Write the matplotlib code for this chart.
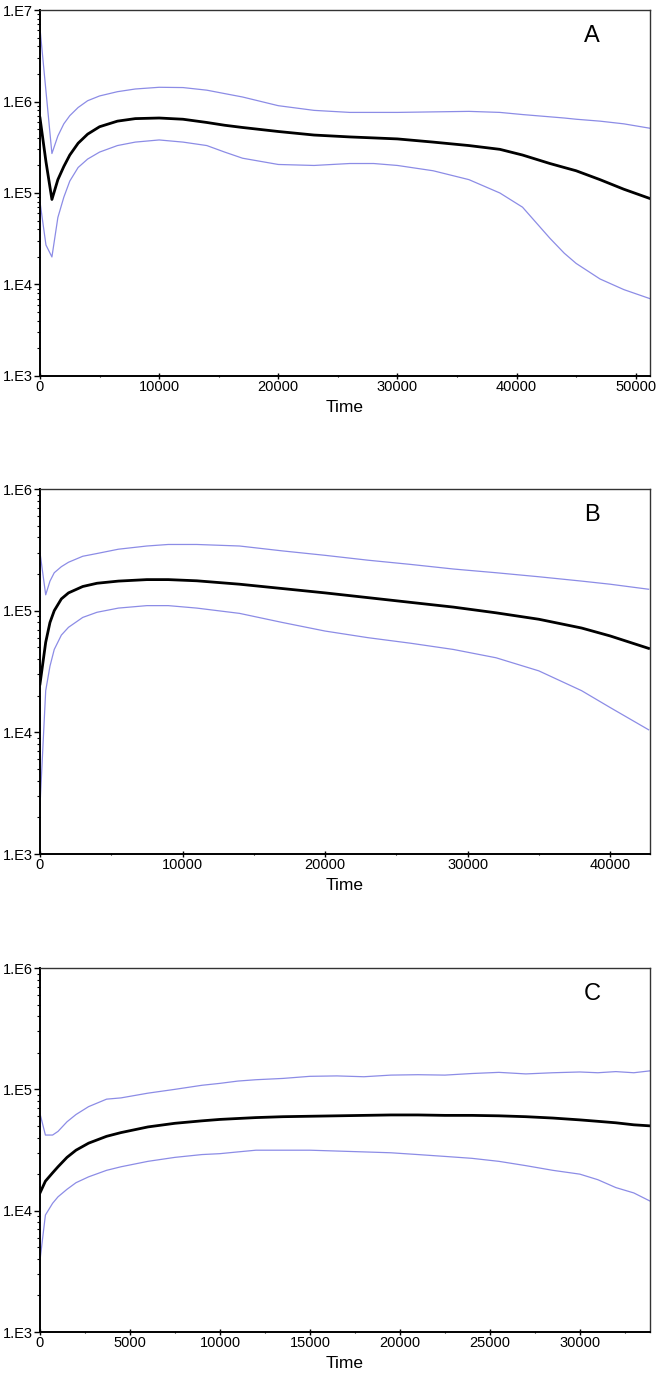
import matplotlib.pyplot as plt
import numpy as np
from matplotlib.ticker import LogLocator, FuncFormatter, MultipleLocator, NullFormatter

plt.rcParams['font.family'] = ['Liberation Sans', 'DejaVu Sans']

# panel A
time_a = [0, 500, 1000, 1500, 2000, 2500, 3200, 4000, 5000, 6500, 8000, 10000, 12000, 14000,
          15500, 17000, 20000, 23000, 26000, 28000, 30000, 33000, 36000, 38600, 40500, 42800,
          44000, 45000, 47000, 49000, 51200]
median_a = [6.6e5, 2.2e5, 8.5e4, 1.4e5, 1.95e5, 2.6e5, 3.5e5, 4.4e5, 5.3e5, 6.1e5, 6.5e5,
            6.6e5, 6.4e5, 5.9e5, 5.5e5, 5.2e5, 4.7e5, 4.3e5, 4.1e5, 4.0e5, 3.9e5, 3.6e5,
            3.3e5, 3.0e5, 2.6e5, 2.1e5, 1.9e5, 1.75e5, 1.4e5, 1.1e5, 8.7e4]
upper_a = [6.3e6, 1.3e6, 2.7e5, 4.2e5, 5.7e5, 7.0e5, 8.6e5, 1.02e6, 1.15e6, 1.28e6, 1.37e6,
           1.43e6, 1.42e6, 1.33e6, 1.22e6, 1.12e6, 9.0e5, 8.0e5, 7.6e5, 7.6e5, 7.6e5, 7.7e5,
           7.8e5, 7.6e5, 7.2e5, 6.8e5, 6.6e5, 6.4e5, 6.1e5, 5.7e5, 5.1e5]
lower_a = [8.0e4, 2.7e4, 2.0e4, 5.4e4, 9.0e4, 1.35e5, 1.9e5, 2.35e5, 2.8e5, 3.3e5, 3.6e5,
           3.8e5, 3.6e5, 3.3e5, 2.8e5, 2.4e5, 2.05e5, 2.0e5, 2.1e5, 2.1e5, 2.0e5, 1.75e5,
           1.4e5, 1.0e5, 7.0e4, 3.2e4, 2.2e4, 1.7e4, 1.15e4, 8.8e3, 7.0e3]

# panel B
time_b = [0, 400, 700, 1000, 1500, 2000, 3000, 4000, 5500, 7500, 9000, 11000, 14000, 17000,
          20000, 23000, 26000, 29000, 32000, 35000, 38000, 40000, 42700]
median_b = [2.5e4, 5.5e4, 8.0e4, 1.0e5, 1.25e5, 1.4e5, 1.58e5, 1.68e5, 1.75e5, 1.8e5, 1.8e5,
            1.76e5, 1.65e5, 1.52e5, 1.4e5, 1.28e5, 1.17e5, 1.07e5, 9.6e4, 8.5e4, 7.2e4,
            6.2e4, 4.9e4]
upper_b = [3.0e5, 1.35e5, 1.75e5, 2.05e5, 2.3e5, 2.5e5, 2.8e5, 2.95e5, 3.2e5, 3.4e5, 3.5e5,
           3.5e5, 3.4e5, 3.1e5, 2.85e5, 2.6e5, 2.4e5, 2.2e5, 2.05e5, 1.9e5, 1.75e5, 1.65e5,
           1.5e5]
lower_b = [2.5e3, 2.2e4, 3.5e4, 4.8e4, 6.3e4, 7.3e4, 8.8e4, 9.7e4, 1.05e5, 1.1e5, 1.1e5,
           1.05e5, 9.5e4, 8.0e4, 6.8e4, 6.0e4, 5.4e4, 4.8e4, 4.1e4, 3.2e4, 2.2e4, 1.6e4,
           1.05e4]

# panel C
time_c = [0, 300, 700, 1000, 1500, 2000, 2700, 3700, 4500, 6000, 7500, 9000, 10000, 11000,
          12000, 13500, 15000, 16500, 18000, 19500, 21000, 22500, 24000, 25500, 27000, 28500,
          30000, 31000, 32000, 33000, 33900]
median_c = [1.4e4, 1.75e4, 2.05e4, 2.3e4, 2.75e4, 3.15e4, 3.6e4, 4.1e4, 4.4e4, 4.9e4, 5.25e4,
            5.5e4, 5.65e4, 5.75e4, 5.85e4, 5.95e4, 6.0e4, 6.05e4, 6.1e4, 6.15e4, 6.15e4,
            6.1e4, 6.1e4, 6.05e4, 5.95e4, 5.8e4, 5.6e4, 5.45e4, 5.3e4, 5.1e4, 5.0e4]
upper_c = [6.3e4, 4.2e4, 4.2e4, 4.5e4, 5.4e4, 6.2e4, 7.2e4, 8.3e4, 8.5e4, 9.3e4, 1.0e5,
           1.08e5, 1.12e5, 1.17e5, 1.2e5, 1.23e5, 1.28e5, 1.29e5, 1.27e5, 1.31e5, 1.32e5,
           1.31e5, 1.35e5, 1.38e5, 1.34e5, 1.37e5, 1.39e5, 1.37e5, 1.40e5, 1.37e5, 1.42e5]
lower_c = [3.9e3, 9.2e3, 1.15e4, 1.3e4, 1.5e4, 1.7e4, 1.9e4, 2.15e4, 2.3e4, 2.55e4, 2.75e4,
           2.9e4, 2.95e4, 3.05e4, 3.15e4, 3.15e4, 3.15e4, 3.1e4, 3.05e4, 3.0e4, 2.9e4, 2.8e4,
           2.7e4, 2.55e4, 2.35e4, 2.15e4, 2.0e4, 1.8e4, 1.55e4, 1.4e4, 1.2e4]

panels = [
    ("A", time_a, median_a, upper_a, lower_a, 51200, (1e3, 1e7), 10000),
    ("B", time_b, median_b, upper_b, lower_b, 42800, (1e3, 1e6), 10000),
    ("C", time_c, median_c, upper_c, lower_c, 33900, (1e3, 1e6), 5000),
]

W, H = 662, 1378
fig = plt.figure(figsize=(W / 100, H / 100), dpi=100)
# (top, bottom) in pixels
boxes = [(10, 376), (489, 854), (968, 1332)]

band_color = '#8c8ce6'

for (name, t, med, up, lo, xmax, ylim, step), (top, bot) in zip(panels, boxes):
    ax = fig.add_axes([40 / W, 1 - bot / H, 610 / W, (bot - top) / H])
    ax.plot(t, up, color=band_color, lw=0.9)
    ax.plot(t, lo, color=band_color, lw=0.9)
    ax.plot(t, med, color='black', lw=2)
    ax.set_yscale('log')
    ax.set_ylim(*ylim)
    ax.set_xlim(0, xmax)

    ax.yaxis.set_major_locator(LogLocator(base=10))
    ax.yaxis.set_major_formatter(FuncFormatter(lambda v, p: "1.E%d" % round(np.log10(v))))
    ax.yaxis.set_minor_locator(LogLocator(base=10, subs=np.arange(2, 10)))
    ax.yaxis.set_minor_formatter(NullFormatter())
    ax.xaxis.set_major_locator(MultipleLocator(step))
    ax.xaxis.set_minor_locator(MultipleLocator(step / 2))

    ax.tick_params(which='major', direction='out', length=4, width=1, labelsize=10.5, pad=1)
    ax.tick_params(which='minor', direction='out', length=2, width=0.8)
    ax.tick_params(axis='x', which='both', direction='inout')

    for s in ['left', 'bottom']:
        ax.spines[s].set_linewidth(1.4)
        ax.spines[s].set_color('black')
    for s in ['top', 'right']:
        ax.spines[s].set_linewidth(1.0)
        ax.spines[s].set_color('#333333')

    ax.set_xlabel("Time", fontsize=12.5, labelpad=4)
    ax.text(0.905, 0.96, name, transform=ax.transAxes, fontsize=17, ha='center', va='top')

fig.savefig("out.png", dpi=100)
